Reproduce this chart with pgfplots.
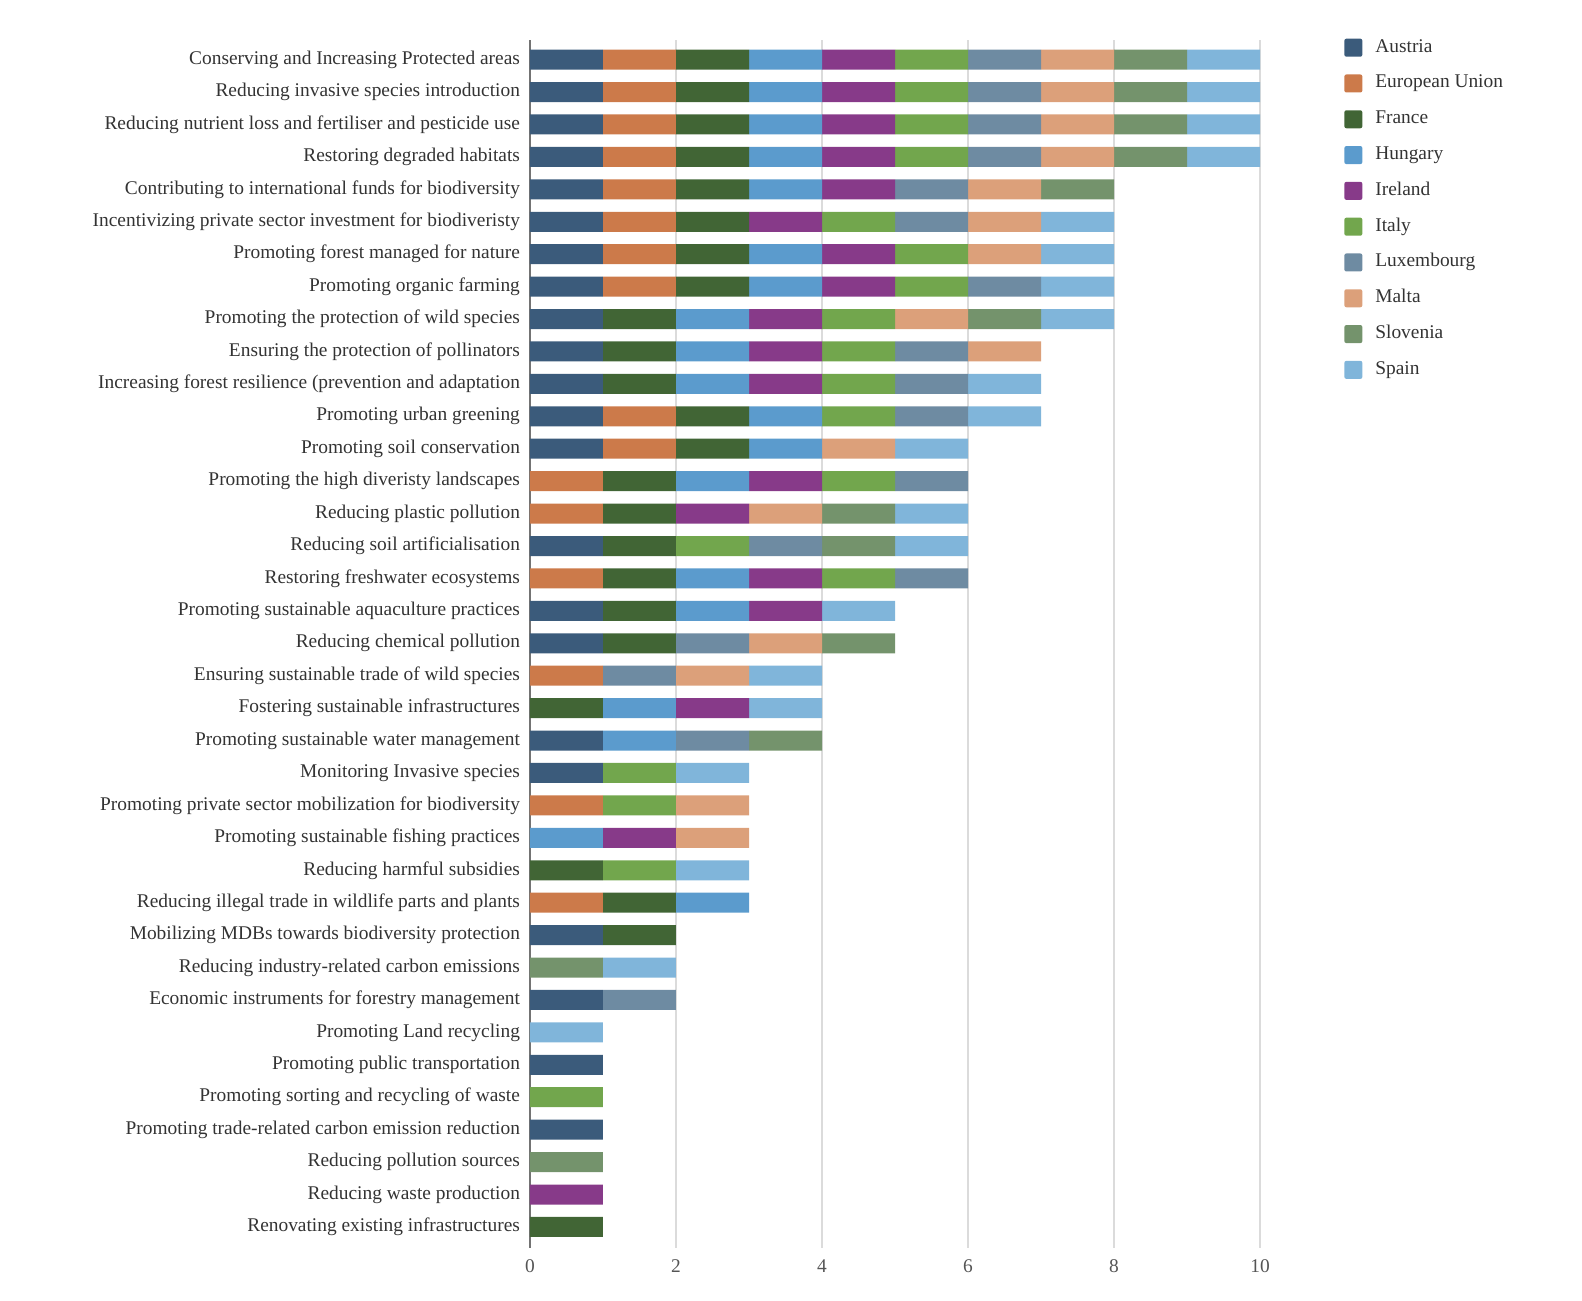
\documentclass[border=0pt]{standalone}
\usepackage{fontspec}
\setmainfont{Liberation Serif}
\usepackage{pgfplots}
\usepackage{pgfplotstable}
\pgfplotsset{compat=1.18}
\definecolor{cAu}{HTML}{3B5B7B}
\definecolor{cEU}{HTML}{CC7A4A}
\definecolor{cFr}{HTML}{416535}
\definecolor{cHu}{HTML}{5B9BCD}
\definecolor{cIr}{HTML}{873A89}
\definecolor{cIt}{HTML}{72A64D}
\definecolor{cLu}{HTML}{6E8BA2}
\definecolor{cMa}{HTML}{DCA07A}
\definecolor{cSl}{HTML}{74936C}
\definecolor{cSp}{HTML}{80B5DA}
\definecolor{txt}{HTML}{333333}
\definecolor{ticktxt}{HTML}{555555}
\pgfplotstableread{
idx Au EU Fr Hu Ir It Lu Ma Sl Sp
0  1 1 1 1 1 1 1 1 1 1
1  1 1 1 1 1 1 1 1 1 1
2  1 1 1 1 1 1 1 1 1 1
3  1 1 1 1 1 1 1 1 1 1
4  1 1 1 1 1 0 1 1 1 0
5  1 1 1 0 1 1 1 1 0 1
6  1 1 1 1 1 1 0 1 0 1
7  1 1 1 1 1 1 1 0 0 1
8  1 0 1 1 1 1 0 1 1 1
9  1 0 1 1 1 1 1 1 0 0
10 1 0 1 1 1 1 1 0 0 1
11 1 1 1 1 0 1 1 0 0 1
12 1 1 1 1 0 0 0 1 0 1
13 0 1 1 1 1 1 1 0 0 0
14 0 1 1 0 1 0 0 1 1 1
15 1 0 1 0 0 1 1 0 1 1
16 0 1 1 1 1 1 1 0 0 0
17 1 0 1 1 1 0 0 0 0 1
18 1 0 1 0 0 0 1 1 1 0
19 0 1 0 0 0 0 1 1 0 1
20 0 0 1 1 1 0 0 0 0 1
21 1 0 0 1 0 0 1 0 1 0
22 1 0 0 0 0 1 0 0 0 1
23 0 1 0 0 0 1 0 1 0 0
24 0 0 0 1 1 0 0 1 0 0
25 0 0 1 0 0 1 0 0 0 1
26 0 1 1 1 0 0 0 0 0 0
27 1 0 1 0 0 0 0 0 0 0
28 0 0 0 0 0 0 0 0 1 1
29 1 0 0 0 0 0 1 0 0 0
30 0 0 0 0 0 0 0 0 0 1
31 1 0 0 0 0 0 0 0 0 0
32 0 0 0 0 0 1 0 0 0 0
33 1 0 0 0 0 0 0 0 0 0
34 0 0 0 0 0 0 0 0 1 0
35 0 0 0 0 1 0 0 0 0 0
36 0 0 1 0 0 0 0 0 0 0
}\datatab
\begin{document}
\begin{tikzpicture}
\begin{axis}[
  scale only axis, width=365pt, height=603.9pt,
  xbar stacked, bar width=10pt,
  xmin=0, xmax=10, ymin=-0.6, ymax=36.65, y dir=reverse,
  axis y line*=left, axis x line*=bottom,
  x axis line style={draw=none},
  y axis line style={draw=black!55, line width=1pt},
  xtick={0,2,...,10},
  xtick style={draw=none},
  xmajorgrids, grid style={black!14, line width=1pt},
  ytick={0,...,36},
  ytick style={draw=none},
  tick align=inside,
  /pgf/number format/assume math mode=true,
  xticklabel style={font=\fontsize{9.7}{11.6}\selectfont, text=ticktxt, yshift=-2.5pt},
  yticklabel style={font=\fontsize{9.7}{11.6}\selectfont, text=txt, xshift=-1.5pt},
  yticklabels={
    Conserving and Increasing Protected areas,
    Reducing invasive species introduction,
    Reducing nutrient loss and fertiliser and pesticide use,
    Restoring degraded habitats,
    Contributing to international funds for biodiversity,
    Incentivizing private sector investment for biodiveristy,
    Promoting forest managed for nature,
    Promoting organic farming,
    Promoting the protection of wild species,
    Ensuring the protection of pollinators,
    Increasing forest resilience (prevention and adaptation,
    Promoting urban greening,
    Promoting soil conservation,
    Promoting the high diveristy landscapes,
    Reducing plastic pollution,
    Reducing soil artificialisation,
    Restoring freshwater ecosystems,
    Promoting sustainable aquaculture practices,
    Reducing chemical pollution,
    Ensuring sustainable trade of wild species,
    Fostering sustainable infrastructures,
    Promoting sustainable water management,
    Monitoring Invasive species,
    Promoting private sector mobilization for biodiversity,
    Promoting sustainable fishing practices,
    Reducing harmful subsidies,
    Reducing illegal trade in wildlife parts and plants,
    Mobilizing MDBs towards biodiversity protection,
    Reducing industry-related carbon emissions,
    Economic instruments for forestry management,
    Promoting Land recycling,
    Promoting public transportation,
    Promoting sorting and recycling of waste,
    Promoting trade-related carbon emission reduction,
    Reducing pollution sources,
    Reducing waste production,
    Renovating existing infrastructures},
  legend cell align=left,
  legend image code/.code={\fill[#1, rounded corners=1pt] (0pt,-4.5pt) rectangle (9pt,4.5pt);},
  legend style={at={(rel axis cs:1.115,1.002)}, anchor=north west, draw=none, fill=none,
    font=\fontsize{9.7}{11.6}\selectfont, text=txt, inner sep=0pt, row sep=8.4pt,
    nodes={text height=7pt, text depth=2.5pt, inner sep=0pt},
    /tikz/every odd column/.append style={column sep=6.5pt}},
]
\addplot[fill=cAu, draw=none] table[x=Au, y=idx] {\datatab};
\addplot[fill=cEU, draw=none] table[x=EU, y=idx] {\datatab};
\addplot[fill=cFr, draw=none] table[x=Fr, y=idx] {\datatab};
\addplot[fill=cHu, draw=none] table[x=Hu, y=idx] {\datatab};
\addplot[fill=cIr, draw=none] table[x=Ir, y=idx] {\datatab};
\addplot[fill=cIt, draw=none] table[x=It, y=idx] {\datatab};
\addplot[fill=cLu, draw=none] table[x=Lu, y=idx] {\datatab};
\addplot[fill=cMa, draw=none] table[x=Ma, y=idx] {\datatab};
\addplot[fill=cSl, draw=none] table[x=Sl, y=idx] {\datatab};
\addplot[fill=cSp, draw=none] table[x=Sp, y=idx] {\datatab};
\legend{Austria, European Union, France, Hungary, Ireland, Italy, Luxembourg, Malta, Slovenia, Spain}
\end{axis}
\path[use as bounding box] (-265pt,-26pt) rectangle (526pt,624pt);
\end{tikzpicture}
\end{document}
